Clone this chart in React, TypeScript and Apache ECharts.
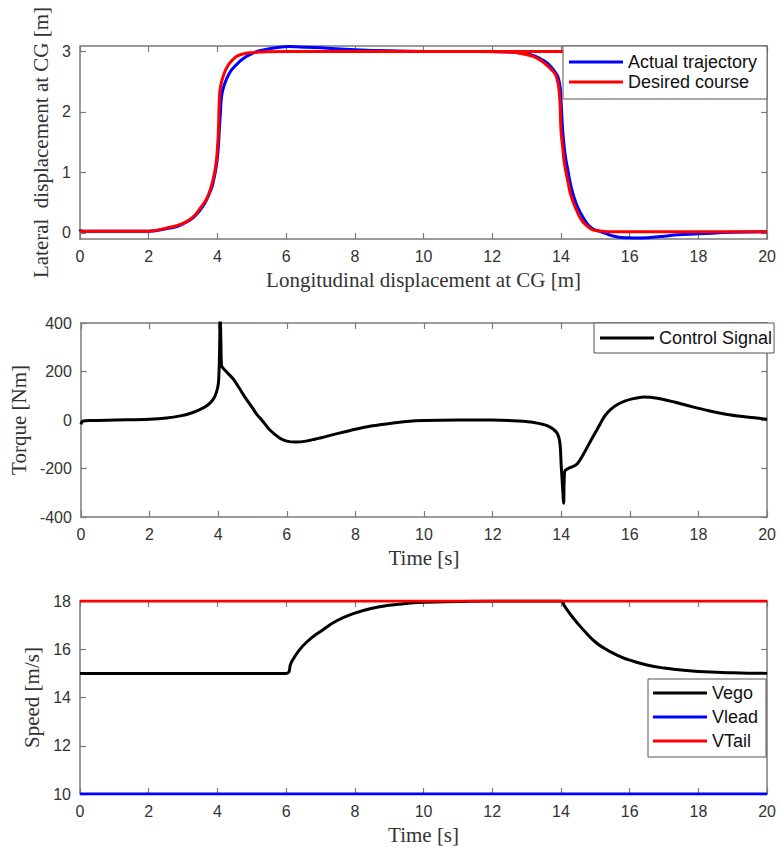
import React, { useEffect, useRef } from "react";
import * as echarts from "echarts";

// ---- Top plot: lateral vs longitudinal displacement ----
const actualX = [0, 0.05, 1, 2, 2.5, 3, 3.5, 3.8, 3.9, 3.98, 4.03, 4.06, 4.09, 4.12, 4.2, 4.35, 4.5, 4.64, 4.8, 5.02, 5.3, 5.7, 6.1, 6.6, 7, 8, 9, 10, 12, 12.5, 13.04, 13.4, 13.72, 13.96, 14.0, 14.05, 14.12, 14.2, 14.3, 14.44, 14.6, 14.78, 14.95, 15.17, 15.4, 15.65, 15.95, 16.25, 16.6, 17, 17.4, 18, 19, 20];
const actualY = [0.06, 0.03, 0.03, 0.03, 0.07, 0.15, 0.38, 0.7, 0.9, 1.15, 1.45, 1.75, 2.0, 2.25, 2.45, 2.64, 2.75, 2.83, 2.9, 2.97, 3.02, 3.06, 3.08, 3.07, 3.06, 3.03, 3.01, 3.0, 3.0, 2.99, 2.96, 2.88, 2.74, 2.47, 2.2, 1.7, 1.3, 1.04, 0.75, 0.49, 0.3, 0.14, 0.06, 0.02, -0.03, -0.066, -0.08, -0.085, -0.075, -0.055, -0.03, -0.015, 0.01, 0.02];
const desiredX: (number | string)[] = [0, 1, 2, 2.5, 3, 3.3, 3.5, 3.7, 3.82, 3.9, 3.96, 4.0, 4.03, 4.06, 4.1, 4.2, 4.3, 4.44, 4.6, 4.83, 5.0, 5.22, 6, 8, 10, 12, 14, 16, 18, 20, "-", 11.6, 12.5, 13.04, 13.3, 13.53, 13.72, 13.87, 13.96, 14.0, 14.05, 14.1, 14.2, 14.3, 14.45, 14.59, 14.75, 14.93, 15.2, 15.46, 16, 18, 20];
const desiredY: (number | string)[] = [0.03, 0.03, 0.03, 0.08, 0.16, 0.27, 0.41, 0.58, 0.77, 0.95, 1.15, 1.4, 1.7, 2.25, 2.45, 2.64, 2.76, 2.86, 2.93, 2.97, 2.98, 2.99, 3.0, 3, 3, 3, 3, 3, 3, 3, "-", 3.0, 2.99, 2.94, 2.89, 2.8, 2.7, 2.58, 2.25, 1.7, 1.42, 1.15, 0.85, 0.6, 0.38, 0.22, 0.12, 0.05, 0.03, 0.02, 0.02, 0.02, 0.02];

// ---- Middle plot: control torque vs time ----
const ctrlT = [0, 0.05, 0.3, 1, 2, 2.5, 2.9, 3.2, 3.48, 3.7, 3.86, 3.95, 4.01, 4.04, 4.06, 4.08, 4.1, 4.2, 4.44, 4.6, 4.8, 5.0, 5.12, 5.3, 5.5, 5.8, 6.0, 6.25, 6.6, 7.0, 7.5, 8, 8.5, 9, 9.5, 10, 11, 12, 12.75, 13.2, 13.62, 13.87, 13.96, 14.0, 14.04, 14.07, 14.1, 14.2, 14.44, 14.65, 14.88, 15.1, 15.27, 15.45, 15.65, 15.85, 16.04, 16.4, 16.8, 17.3, 17.8, 18.3, 18.8, 19.3, 19.7, 20];
const ctrlV = [-18, -5, -2, 0, 3, 8, 17, 28, 44, 62, 86, 115, 155, 280, 430, 320, 224, 205, 169, 135, 90, 50, 24, -5, -40, -75, -87, -91, -86, -73, -55, -38, -24, -14, -6, -2, 0, 0, -4, -10, -25, -52, -94, -191, -280, -343, -212, -200, -184, -140, -80, -25, 17, 45, 65, 78, 86, 95, 90, 74, 55, 38, 24, 14, 8, 3];

// ---- Bottom plot: speeds vs time ----
const egoT = [0, 6, 6.15, 6.35, 6.6, 7, 7.5, 8, 8.5, 9, 9.5, 10, 11, 12, 13, 14, 14.1, 14.3, 14.5, 14.75, 15, 15.25, 15.5, 15.75, 16, 16.5, 17, 17.5, 18, 19, 20];
const egoV = [15, 15, 15.45, 15.9, 16.3, 16.74, 17.2, 17.5, 17.7, 17.82, 17.9, 17.95, 17.98, 18, 18, 18, 17.8, 17.4, 17.05, 16.65, 16.3, 16.05, 15.85, 15.68, 15.55, 15.35, 15.22, 15.14, 15.08, 15.03, 15.0];
const leadT = [0, 20];
const leadV = [10, 10];
const tailT = [0, 20];
const tailV = [18, 18];

const lateralTicks = [0, 1, 2, 3];

const zip = (xs: any[], ys: any[]) => xs.map((x, i) => [x, ys[i]]);

const AX = "#7a7a7a";
const TICK_FONT = "'Liberation Sans', Arial, sans-serif";
const SERIF = "'Liberation Serif', 'Times New Roman', serif";

function mainAxes(grid: number, name: string, ymin: number, ymax: number, yinterval: number | null, yname: string, ynameGap: number, custom?: number[]) {
  const line = { show: true, onZero: false, lineStyle: { color: AX, width: 1.5 } };
  const tick = { show: true, inside: true, length: 6, lineStyle: { color: AX, width: 1.2 } };
  const xa = [
    {
      type: "value", gridIndex: grid, position: "bottom", min: 0, max: 20, interval: 2,
      axisLine: line, axisTick: tick, splitLine: { show: false },
      axisLabel: { color: "#333", fontSize: 16, fontFamily: TICK_FONT, margin: 9 },
      name, nameLocation: "middle", nameGap: 30,
      nameTextStyle: { color: "#333", fontSize: 21, fontFamily: SERIF },
    },
    {
      type: "value", gridIndex: grid, position: "top", min: 0, max: 20, interval: 2,
      axisLine: line, axisTick: tick, splitLine: { show: false }, axisLabel: { show: false },
    },
  ];
  const yl: any = { color: "#333", fontSize: 16, fontFamily: TICK_FONT, margin: 9 };
  const yt: any = { ...tick };
  const yExtra: any = {};
  if (custom) {
    yl.customValues = custom;
    yt.customValues = custom;
  } else {
    yExtra.interval = yinterval;
  }
  const ya = [
    {
      type: "value", gridIndex: grid, position: "left", min: ymin, max: ymax, ...yExtra,
      axisLine: line, axisTick: yt, splitLine: { show: false }, axisLabel: yl,
      name: yname, nameLocation: "middle", nameGap: ynameGap,
      nameTextStyle: { color: "#333", fontSize: 21, fontFamily: SERIF },
    },
    {
      type: "value", gridIndex: grid, position: "right", min: ymin, max: ymax, ...yExtra,
      axisLine: line, axisTick: custom ? { ...tick, customValues: custom } : tick,
      splitLine: { show: false }, axisLabel: { show: false },
    },
  ];
  return { xa, ya };
}

function legend(names: string[], left: number, top: number, padding: number[], lineHeight: number) {
  return {
    show: true, data: names, left, top, orient: "vertical", padding, itemGap: 0,
    icon: "rect", itemWidth: 54, itemHeight: 3, selectedMode: false,
    backgroundColor: "#fff", borderColor: "#555", borderWidth: 1, borderRadius: 0,
    textStyle: { color: "#111", fontSize: 18, fontFamily: TICK_FONT, lineHeight },
  };
}

export default function App() {
  const ref = useRef<HTMLDivElement>(null);
  useEffect(() => {
    if (!ref.current) return;
    const chart = echarts.init(ref.current, null, { renderer: "svg" });
    const a0 = mainAxes(0, "Longitudinal displacement at CG [m]", -0.1, 3.09, null, "Lateral  displacement at CG [m]", 24, lateralTicks);
    const a1 = mainAxes(1, "Time [s]", -400, 400, 200, "Torque [Nm]", 48);
    const a2 = mainAxes(2, "Time [s]", 10, 18, 2, "Speed [m/s]", 34);
    const lineSeries = (name: string, xi: number, yi: number, data: any[], color: string, width = 3, smooth: any = 0.5) => ({
      name, type: "line", xAxisIndex: xi, yAxisIndex: yi, data, showSymbol: false, symbol: "none",
      smooth, connectNulls: false,
      lineStyle: { color, width }, itemStyle: { color }, clip: true,
    });
    chart.setOption({
      animation: false,
      backgroundColor: "#fff",
      grid: [
        { left: 80, right: 10, top: 46, height: 193 },
        { left: 80, right: 10, top: 323, height: 194 },
        { left: 80, right: 10, top: 601, height: 193 },
      ],
      xAxis: [...a0.xa, ...a1.xa, ...a2.xa],
      yAxis: [...a0.ya, ...a1.ya, ...a2.ya],
      legend: [
        legend(["Actual trajectory", "Desired course"], 563, 46, [6, 10, 7, 6], 20),
        legend(["Control Signal"], 594, 323, [4, 2, 4, 6], 22),
        legend(["Vego", "Vlead", "VTail"], 648, 679, [2, 8, 4, 5], 24),
      ],
      series: [
        lineSeries("Actual trajectory", 0, 0, zip(actualX, actualY), "#0000ff"),
        lineSeries("Desired course", 0, 0, zip(desiredX, desiredY), "#ff0000"),
        lineSeries("Control Signal", 2, 2, zip(ctrlT, ctrlV), "#000000", 3, 0.3),
        lineSeries("Vego", 4, 4, zip(egoT, egoV), "#000000"),
        lineSeries("Vlead", 4, 4, zip(leadT, leadV), "#0000ff"),
        lineSeries("VTail", 4, 4, zip(tailT, tailV), "#ff0000"),
      ],
    });
    return () => chart.dispose();
  }, []);
  return <div ref={ref} style={{ position: "absolute", left: 0, top: 0, width: 779, height: 850 }} />;
}
